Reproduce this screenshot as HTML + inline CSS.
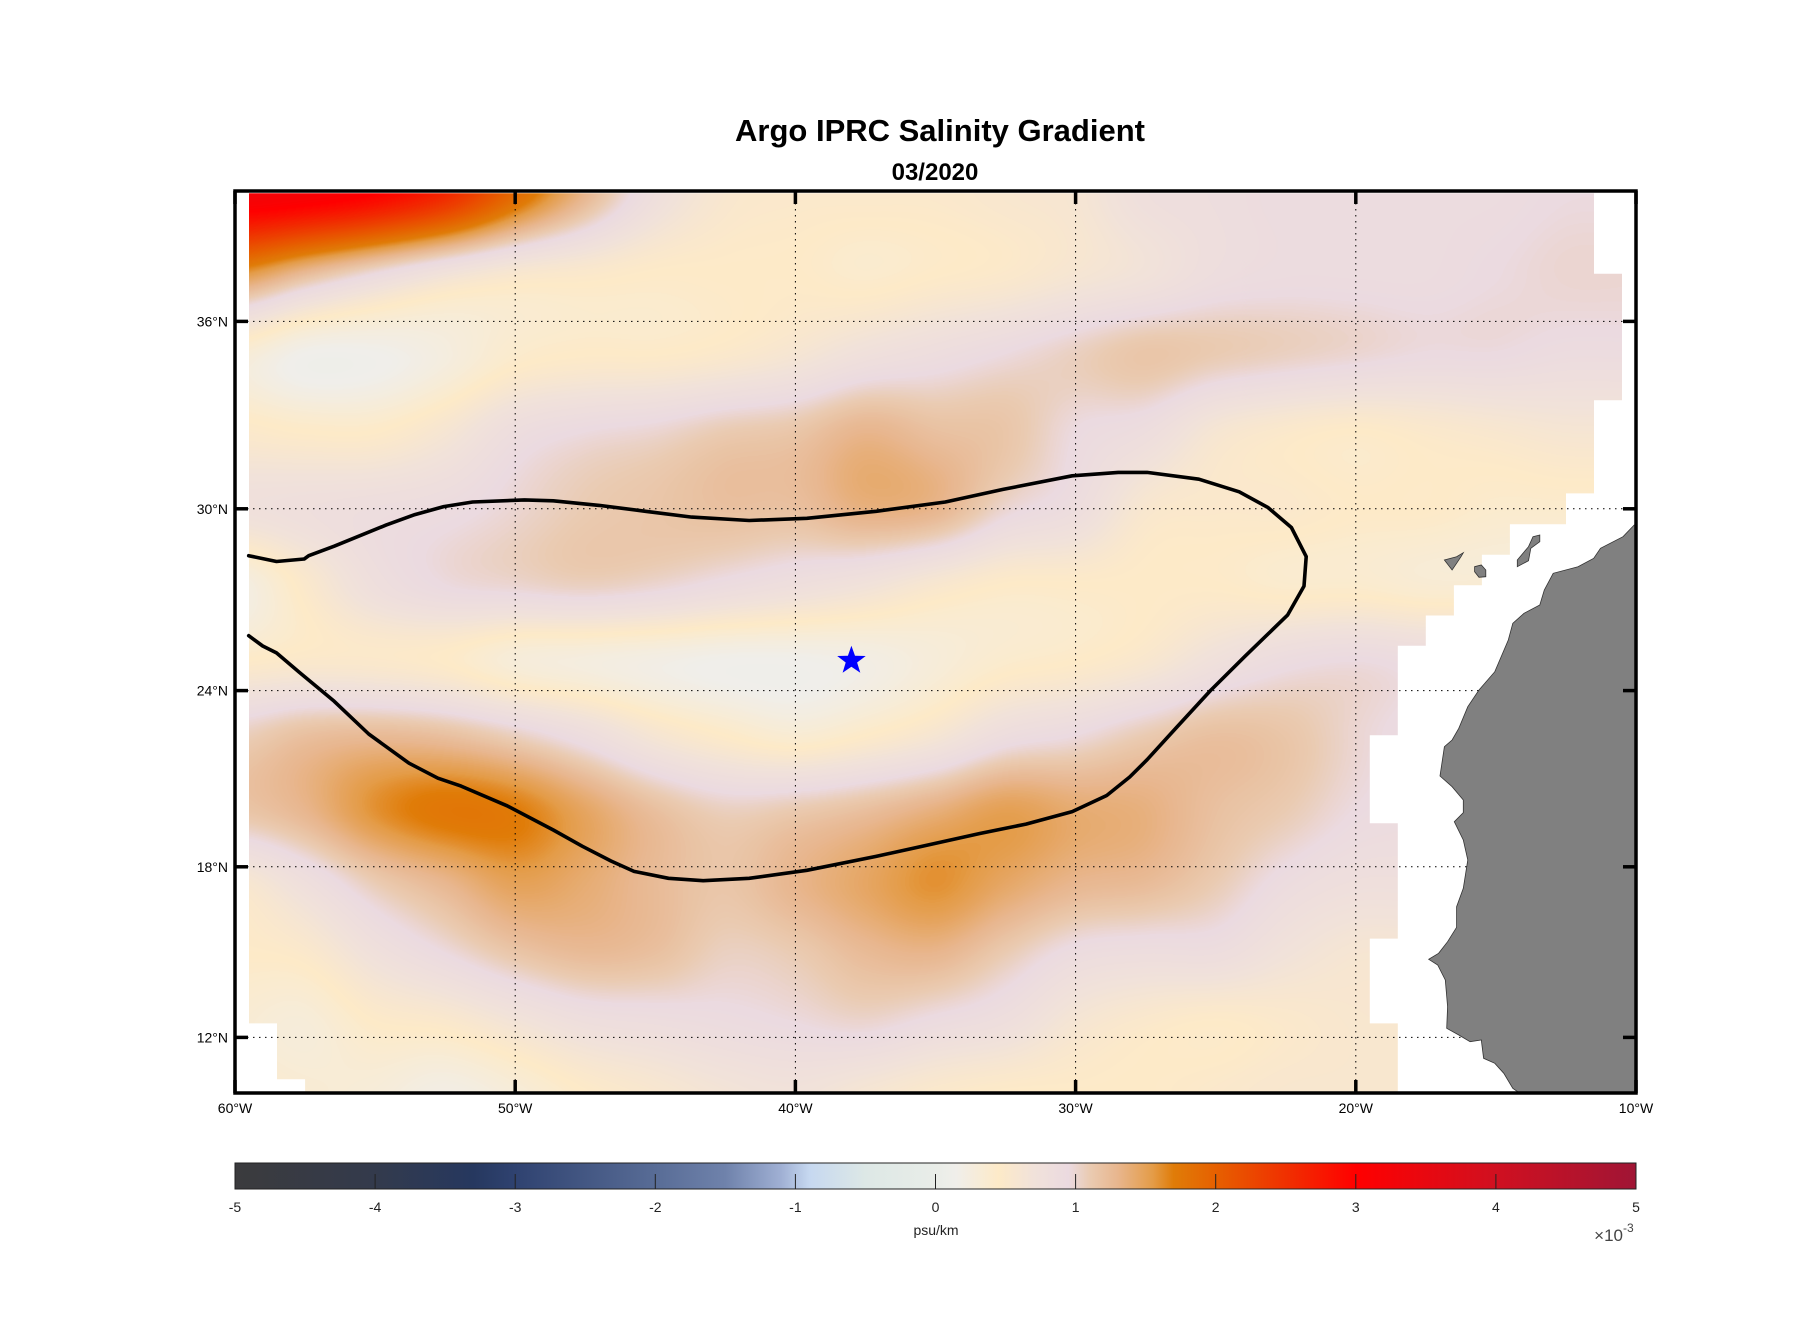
<!DOCTYPE html>
<html><head><meta charset="utf-8">
<style>
html,body{margin:0;padding:0;background:#fff;}
#wrap{position:relative;width:1808px;height:1333px;overflow:hidden;font-family:"Liberation Sans",Arial,sans-serif;}
#field{position:absolute;left:235px;top:191px;}
#ov{position:absolute;left:0;top:0;}
</style></head>
<body>
<div id="wrap">
<canvas id="field" width="1401" height="902"></canvas>
<svg id="ov" width="1808" height="1333" xmlns="http://www.w3.org/2000/svg">
  <text x="940" y="141" text-anchor="middle" font-size="31" font-weight="bold">Argo IPRC Salinity Gradient</text>
  <text x="935" y="180" text-anchor="middle" font-size="24" font-weight="bold">03/2020</text>
  <g id="maskL"></g>
  <g id="gridL"></g>
  <g id="landL"></g>
  <g id="contL"></g>
  <g id="starL"></g>
  <g id="axL"></g>
  <g id="cbL"></g>
</svg>
</div>
<script>
// ---- data ----
const gridLons = [-60,-57.5,-55,-52.5,-50,-47.5,-45,-42.5,-40,-37.5,-35,-32.5,-30,-27.5,-25,-22.5,-20,-17.5,-15,-12.5,-10];
const gridLats = [40,37.5,35,32.5,30,27.5,25,22.5,20,17.5,15,12.5,10];
const row40  = [3.3,3.2,3.0,2.6,1.9,1.3,0.8,0.55,0.5,0.5,0.5,0.55,0.6,0.8,0.85,0.9,0.9,0.9,0.9,0.95,0.95];
const row375 = [1.6,1.25,0.95,0.7,0.55,0.5,0.45,0.45,0.45,0.4,0.45,0.5,0.6,0.7,0.85,0.9,0.9,0.9,0.95,1.0,1.0];
const row35  = [0.35,0.15,0.15,0.25,0.4,0.45,0.45,0.5,0.6,0.75,0.85,0.95,1.05,1.15,1.1,1.05,1.0,0.95,0.95,0.9,0.9];
const row325 = [0.5,0.45,0.45,0.6,0.85,0.95,1.0,1.1,1.15,1.3,1.2,1.15,0.95,0.85,0.6,0.5,0.45,0.5,0.55,0.6,0.6];
const row30  = [0.75,0.8,0.85,0.9,1.0,1.1,1.15,1.2,1.2,1.35,1.3,1.0,0.85,0.55,0.5,0.5,0.45,0.45,0.4,0.4,0.4];
const row275 = [0.2,0.5,0.8,0.95,1.0,1.05,1.0,0.9,0.8,0.7,0.55,0.45,0.45,0.45,0.45,0.4,0.4,0.35,0.35,0.35,0.35];
const row25  = [0.45,0.5,0.5,0.45,0.3,0.25,0.2,0.15,0.15,0.2,0.3,0.4,0.45,0.55,0.75,0.9,0.95,0.9,0.9,0.9,0.9];
const row225 = [1.05,1.2,1.25,1.2,1.05,0.85,0.6,0.45,0.35,0.45,0.6,0.85,0.95,1.1,1.2,1.15,1.0,0.9,0.9,0.9,0.9];
const row20  = [1.15,1.3,1.6,1.75,1.7,1.45,1.2,1.05,1.1,1.2,1.35,1.5,1.4,1.35,1.2,1.1,0.95,0.9,0.9,0.9,0.9];
const row175 = [0.55,0.8,1.1,1.3,1.5,1.4,1.25,1.15,1.3,1.45,1.6,1.45,1.3,1.25,1.1,0.9,0.8,0.8,0.8,0.8,0.8];
const row15  = [0.45,0.5,0.75,0.95,1.15,1.25,1.2,1.05,1.1,1.25,1.3,1.1,0.9,0.85,0.85,0.7,0.6,0.6,0.6,0.6,0.6];
const row125 = [0.35,0.3,0.45,0.5,0.65,0.8,0.85,0.9,0.95,1.0,0.9,0.8,0.6,0.5,0.45,0.5,0.55,0.55,0.55,0.55,0.55];
const row10  = [0.4,0.35,0.3,0.2,0.3,0.45,0.55,0.65,0.7,0.6,0.5,0.45,0.45,0.45,0.5,0.55,0.55,0.55,0.55,0.55,0.55];
const fieldRows = [row40,row375,row35,row325,row30,row275,row25,row225,row20,row175,row15,row125,row10];

const contourLon = [-59.51,-58.52,-57.53,-57.37,-56.46,-54.61,-53.58,-52.55,-51.52,-49.67,-48.64,-47.0,-45.35,-43.70,-41.65,-39.59,-37.12,-34.65,-32.59,-30.12,-28.48,-27.45,-25.60,-24.16,-23.13,-22.30,-21.77,-21.85,-22.43,-23.95,-25.19,-26.42,-27.45,-28.07,-28.89,-30.12,-31.77,-33.42,-35.47,-37.12,-39.59,-41.65,-43.29,-44.53,-45.76,-46.58,-47.61,-48.64,-50.29,-51.93,-52.76,-53.79,-55.23,-56.46,-57.70,-58.52,-59.01,-59.51];
const contourLat = [28.47,28.28,28.36,28.47,28.78,29.47,29.81,30.07,30.22,30.29,30.26,30.11,29.92,29.73,29.62,29.69,29.92,30.22,30.63,31.07,31.18,31.18,30.96,30.55,30.04,29.39,28.44,27.47,26.52,25.15,24.0,22.74,21.67,21.08,20.45,19.90,19.47,19.15,18.71,18.36,17.88,17.60,17.52,17.60,17.84,18.20,18.71,19.27,20.10,20.77,21.04,21.55,22.54,23.64,24.61,25.26,25.49,25.83];
const starLon = [-38.0];
const starLat = [25.0];

const lonTicks = [-60,-50,-40,-30,-20,-10];
const lonTickLabels = ["60°W","50°W","40°W","30°W","20°W","10°W"];
const latTicks = [12,18,24,30,36];
const latTickLabels = ["12°N","18°N","24°N","30°N","36°N"];
const cbTicks = [-5,-4,-3,-2,-1,0,1,2,3,4,5];
const cbTickLabels = ["-5","-4","-3","-2","-1","0","1","2","3","4","5"];

const maskLon = [-59.5,-11.5,-11.5,-10.5,-10.5,-11.5,-11.5,-12.5,-12.5,-14.5,-14.5,-15.5,-15.5,-16.5,-16.5,-17.5,-17.5,-18.5,-18.5,-19.5,-19.5,-18.5,-18.5,-19.5,-19.5,-18.5,-18.5,-57.5,-57.5,-58.5,-58.5,-59.5];
const maskLat = [40,40,37.5,37.5,33.5,33.5,30.5,30.5,29.5,29.5,28.5,28.5,27.5,27.5,26.5,26.5,25.5,25.5,22.5,22.5,19.5,19.5,15.5,15.5,12.5,12.5,10,10,10.5,10.5,12.5,12.5];

// ---- axes ----
const X0=235,X1=1636,Y0=191,Y1=1093;
const B=27.967,C2=0.07778,YB=1037.4;
function xOf(lon){return X0+(lon+60)*(X1-X0)/50;}
function yOf(lat){const d=lat-12;return YB-(B*d+C2*d*d);}
function latOf(y){const r=YB-y;return 12+(-B+Math.sqrt(B*B+4*C2*r))/(2*C2);}
function lonOf(x){return -60+(x-X0)*50/(X1-X0);}

// ---- colormap ----
const cmV=[-5,-4,-3.3,-3,-2,-1.5,-1.1,-0.9,-0.5,0,0.15,0.45,0.7,0.95,1.1,1.3,1.55,1.7,2,2.5,3,3.5,4,5];
const cmC=["#3b3b3d","#333a4c","#26385f","#2f4270","#586c96","#6f82ab","#a0b0d4","#c6d8f0","#dde8e6","#e9ede8","#f0eeea","#fdeac8","#f1e2da","#ebdae0","#eacbb2","#e8b68e","#e49c48","#e07c08","#e66000","#f03000","#ff0000","#e80810","#d01020","#a01535"];
function hex(h){return [parseInt(h.substr(1,2),16),parseInt(h.substr(3,2),16),parseInt(h.substr(5,2),16)];}
const cmRGB=cmC.map(hex);
function cmap(v){
  if(v<=cmV[0])return cmRGB[0];
  for(let i=1;i<cmV.length;i++){if(v<=cmV[i]){const t=(v-cmV[i-1])/(cmV[i]-cmV[i-1]);const a=cmRGB[i-1],b=cmRGB[i];return [a[0]+(b[0]-a[0])*t,a[1]+(b[1]-a[1])*t,a[2]+(b[2]-a[2])*t];}}
  return cmRGB[cmRGB.length-1];
}
const LUTN=1001,lut=[];
for(let i=0;i<LUTN;i++)lut.push(cmap(-5+10*i/(LUTN-1)));
function lutCol(v){let i=Math.round((v+5)/10*(LUTN-1));i=Math.max(0,Math.min(LUTN-1,i));return lut[i];}

// ---- field ----
function cr(p0,p1,p2,p3,t){return 0.5*((2*p1)+(-p0+p2)*t+(2*p0-5*p1+4*p2-p3)*t*t+(-p0+3*p1-3*p2+p3)*t*t*t);}
function G(r,c){r=Math.max(0,Math.min(gridLats.length-1,r));c=Math.max(0,Math.min(gridLons.length-1,c));return fieldRows[r][c];}
function fieldAt(lon,lat){
  const fc=(lon-gridLons[0])/2.5, fr=(gridLats[0]-lat)/2.5;
  const c=Math.floor(fc), r=Math.floor(fr), tc=fc-c, tr=fr-r;
  const rows=[];
  for(let k=-1;k<=2;k++)rows.push(cr(G(r+k,c-1),G(r+k,c),G(r+k,c+1),G(r+k,c+2),tc));
  return cr(rows[0],rows[1],rows[2],rows[3],tr);
}
(function(){
  const cv=document.getElementById('field');const ctx=cv.getContext('2d');
  const W=cv.width,H=cv.height;const img=ctx.createImageData(W,H);const d=img.data;
  for(let py=0;py<H;py++){
    const lat=latOf(Y0+py+0.5);
    for(let px=0;px<W;px++){
      const v=fieldAt(lonOf(X0+px+0.5),lat);const c=lutCol(v);const o=(py*W+px)*4;
      d[o]=c[0];d[o+1]=c[1];d[o+2]=c[2];d[o+3]=255;
    }
  }
  ctx.putImageData(img,0,0);
})();

const NS="http://www.w3.org/2000/svg";
function mk(tag,attrs,parent){const e=document.createElementNS(NS,tag);for(const k in attrs)e.setAttribute(k,attrs[k]);parent.appendChild(e);return e;}

// mask
(function(){
  const g=document.getElementById('maskL');
  let p=`M${X0-2} ${Y0-2}H${X1+2}V${Y1+2}H${X0-2}Z `;
  p+='M'+maskLon.map((lo,i)=>xOf(lo).toFixed(1)+' '+yOf(maskLat[i]).toFixed(1)).join(' L')+' Z';
  const e=mk('path',{d:p,fill:'#ffffff','fill-rule':'evenodd'},g);
  
  
})();

// grid
(function(){
  const g=document.getElementById('gridL');
  lonTicks.slice(1,-1).forEach(lo=>{const e=mk('line',{x1:xOf(lo),x2:xOf(lo),y1:Y0,y2:Y1,stroke:'#000','stroke-width':1,'stroke-dasharray':'1.5,4.5'},g);
    
    });
  latTicks.forEach(la=>{const e=mk('line',{x1:X0,x2:X1,y1:yOf(la),y2:yOf(la),stroke:'#000','stroke-width':1,'stroke-dasharray':'1.5,4.5'},g);
    
    });
})();

// land
(function(){
  const g=document.getElementById('landL');
  const africa=[[1634.2,525],[1623,536.7],[1600.5,548.3],[1593.7,558.3],[1578,566.7],[1553.2,573.3],[1544.3,590],[1539.8,605],[1524,613.3],[1512.8,623.3],[1508.3,640],[1494.8,671.7],[1479,690],[1467.8,706.7],[1458.8,728.3],[1452.1,740],[1444.4,746.7],[1440,776],[1452.1,786.7],[1463.3,800],[1463.3,812.7],[1454.3,821.7],[1463.3,840],[1467.8,860],[1463.3,888.3],[1456.6,906.7],[1456.6,927.3],[1447.6,941.7],[1438.6,953.3],[1428.7,959.3],[1437.7,965],[1445.3,980],[1447.6,1006.7],[1446.7,1028.3],[1458.8,1035],[1470.1,1041.7],[1481.3,1040],[1483.6,1058.3],[1494.8,1063.3],[1503.8,1073.3],[1512.8,1088.3],[1519.5,1093],[1636,1093],[1636,525]];
  const isl=[[[1444.4,560],[1452.1,570],[1456.6,563.3],[1461,556.7],[1463.3,552.7],[1456.6,556.7]],
    [[1474.6,566.7],[1481.3,565],[1485.8,570],[1485.8,576.7],[1479,577.3],[1474.6,571.7]],
    [[1517.3,566.7],[1528.5,560.7],[1530.8,548.3],[1539.8,541.7],[1539.8,535],[1533,536.7],[1528.5,546.7],[1517.3,560]]];
  const a=mk('polygon',{points:africa.map(p=>p.join(',')).join(' '),fill:'#808080',stroke:'#333','stroke-width':0.8},g);
  
  
  isl.forEach(pts=>{const e=mk('polygon',{points:pts.map(p=>p.join(',')).join(' '),fill:'#808080',stroke:'#333','stroke-width':0.8},g);
    
    });
})();

// contour
(function(){
  const g=document.getElementById('contL');
  const pts=contourLon.map((lo,i)=>xOf(lo).toFixed(1)+','+yOf(contourLat[i]).toFixed(1)).join(' ');
  const e=mk('polyline',{points:pts,fill:'none',stroke:'#000','stroke-width':3.6,'stroke-linejoin':'round','stroke-linecap':'round'},g);
  
  
})();

// star
(function(){
  const g=document.getElementById('starL');
  starLon.forEach((lo,k)=>{
    const cx=xOf(lo),cy=yOf(starLat[k]),R=15,r=6;let p=[];
    for(let i=0;i<10;i++){const a=-Math.PI/2+i*Math.PI/5;const rr=i%2?r:R;p.push((cx+rr*Math.cos(a)).toFixed(1)+','+(cy+rr*Math.sin(a)).toFixed(1));}
    const e=mk('polygon',{points:p.join(' '),fill:'#0000ff'},g);
    
    
  });
})();

// axes
(function(){
  const g=document.getElementById('axL');
  const f=mk('rect',{x:X0,y:Y0,width:X1-X0,height:Y1-Y0,fill:'none',stroke:'#000','stroke-width':3.5},g);
  
  
  lonTicks.forEach((lo,i)=>{
    const x=xOf(lo);
    mk('line',{x1:x,x2:x,y1:Y1,y2:Y1-13,stroke:'#000','stroke-width':3.5},g);
    mk('line',{x1:x,x2:x,y1:Y0,y2:Y0+13,stroke:'#000','stroke-width':3.5},g);
    const t=mk('text',{x:x,y:Y1+20,'text-anchor':'middle','font-size':14},g);t.textContent=lonTickLabels[i];
    
    
  });
  latTicks.forEach((la,i)=>{
    const y=yOf(la);
    mk('line',{x1:X0,x2:X0+13,y1:y,y2:y,stroke:'#000','stroke-width':3.5},g);
    mk('line',{x1:X1,x2:X1-13,y1:y,y2:y,stroke:'#000','stroke-width':3.5},g);
    const t=mk('text',{x:X0-7,y:y+5,'text-anchor':'end','font-size':14},g);t.textContent=latTickLabels[i];
    
    
  });
})();

// colorbar
(function(){
  const g=document.getElementById('cbL');
  const CX0=235,CX1=1636,CY0=1163,CY1=1189;
  const defs=mk('defs',{},g);
  const lg=mk('linearGradient',{id:'cbgrad',x1:0,x2:1,y1:0,y2:0},defs);
  cmV.forEach((v,i)=>mk('stop',{offset:((v+5)/10).toFixed(4),'stop-color':cmC[i]},lg));
  const r=mk('rect',{x:CX0,y:CY0,width:CX1-CX0,height:CY1-CY0,fill:'url(#cbgrad)',stroke:'#222','stroke-width':1},g);
  
  
  cbTicks.forEach((v,i)=>{
    const x=CX0+(v+5)/10*(CX1-CX0);
    if(i>0&&i<cbTicks.length-1)mk('line',{x1:x,x2:x,y1:CY1,y2:CY1-15,stroke:'#222','stroke-width':1},g);
    const t=mk('text',{x:x,y:1212,'text-anchor':'middle','font-size':14,fill:'#222'},g);t.textContent=cbTickLabels[i];
    
    
  });
  const u=mk('text',{x:936,y:1235,'text-anchor':'middle','font-size':14,fill:'#222'},g);u.textContent='psu/km';
  
  
  const s=mk('text',{x:1623,y:1241,'text-anchor':'end','font-size':17,fill:'#444'},g);s.textContent='×10';
  
  
  const s2=mk('text',{x:1623,y:1232,'text-anchor':'start','font-size':12,fill:'#444'},g);s2.textContent='-3';
  
  
})();
</script>
</body></html>
